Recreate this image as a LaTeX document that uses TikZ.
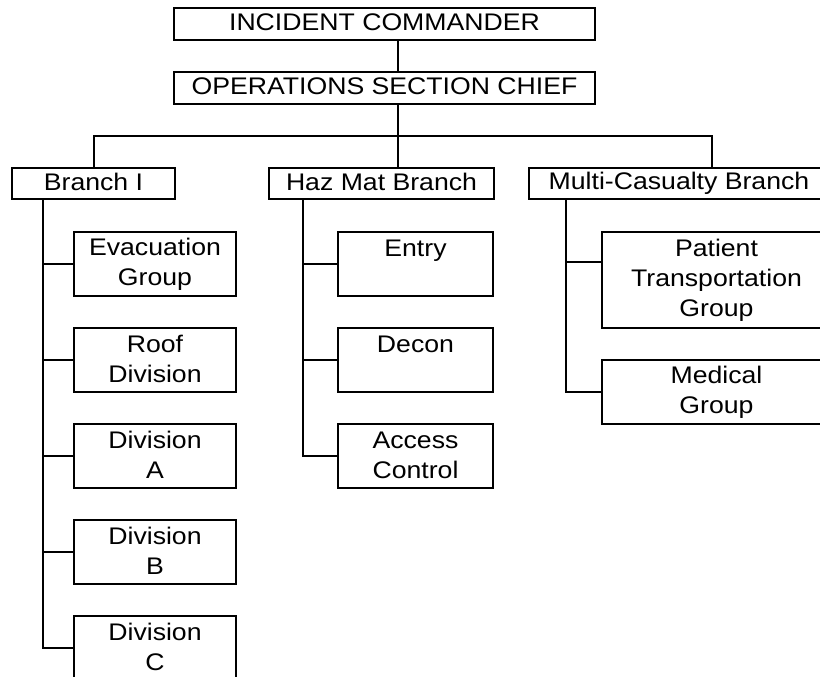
\documentclass[tikz,border=0pt]{standalone}
\usepackage{fontspec}
\setmainfont[FakeStretch=1.11]{Liberation Sans}
\newcommand\lnstrut{\rule[-3pt]{0pt}{20pt}}
\tikzset{
  orgbox/.style={draw, line width=2pt, inner sep=0pt, align=center,
    font=\fontsize{24}{30}\selectfont},
  link/.style={line width=2pt},
}
\begin{document}
\begin{tikzpicture}[x=1pt, y=-1pt]
\useasboundingbox (0,0) rectangle (820,677);
\clip (0,0) rectangle (820,677);

% command levels
\node[orgbox, minimum width=421, minimum height=32] (ic)  at (384.5,24) {\lnstrut INCIDENT COMMANDER};
\node[orgbox, minimum width=421, minimum height=32] (osc) at (384.5,88) {\lnstrut OPERATIONS SECTION CHIEF};

% branches
\node[orgbox, minimum width=163, minimum height=31] (br1) at (93.5,183.5)  {\lnstrut Branch I};
\node[orgbox, minimum width=225, minimum height=31] (haz) at (381.5,183.5) {\lnstrut Haz Mat Branch};
\node[orgbox, minimum width=300, minimum height=31] (mcb) at (679,183.5)   {\lnstrut Multi-Casualty Branch};

% Branch I units
\node[orgbox, minimum width=162, minimum height=64] (evac) at (155,264) {\lnstrut Evacuation\\\lnstrut Group};
\node[orgbox, minimum width=162, minimum height=64] (roof) at (155,360) {\lnstrut Roof\\\lnstrut Division};
\node[orgbox, minimum width=162, minimum height=64] (diva) at (155,456) {\lnstrut Division\\\lnstrut A};
\node[orgbox, minimum width=162, minimum height=64] (divb) at (155,552) {\lnstrut Division\\\lnstrut B};
\node[orgbox, minimum width=162, minimum height=64] (divc) at (155,648) {\lnstrut Division\\\lnstrut C};

% Haz Mat units
\node[orgbox, minimum width=155, minimum height=64] (entry)  at (415.5,264) {\lnstrut Entry\\\lnstrut};
\node[orgbox, minimum width=155, minimum height=64] (decon)  at (415.5,360) {\lnstrut Decon\\\lnstrut};
\node[orgbox, minimum width=155, minimum height=64] (access) at (415.5,456) {\lnstrut Access\\\lnstrut Control};

% Multi-Casualty units
\node[orgbox, minimum width=229, minimum height=96] (ptg) at (716.5,280) {\lnstrut Patient\\\lnstrut Transportation\\\lnstrut Group};
\node[orgbox, minimum width=229, minimum height=64] (med) at (716.5,392) {\lnstrut Medical\\\lnstrut Group};

% spine positions
\coordinate (spine) at (398,0);
\coordinate (bar)   at (0,136);
\coordinate (brR)   at (712,0);
\coordinate (s1)    at (43,0);
\coordinate (s2)    at (303,0);
\coordinate (s3)    at (566,0);

% command chain
\draw[link] (ic.south -| spine) -- (osc.north -| spine);
\draw[link] (osc.south -| spine) -- (haz.north -| spine);
\draw[link] (br1.north -| br1) |- (bar -| spine) -| (mcb.north -| brR);

% Branch I
\draw[link] (br1.south -| s1) |- (divc.west);
\draw[link] (evac.west -| s1) -- (evac.west);
\draw[link] (roof.west -| s1) -- (roof.west);
\draw[link] (diva.west -| s1) -- (diva.west);
\draw[link] (divb.west -| s1) -- (divb.west);

% Haz Mat Branch
\draw[link] (haz.south -| s2) |- (access.west);
\draw[link] (entry.west -| s2) -- (entry.west);
\draw[link] (decon.west -| s2) -- (decon.west);

% Multi-Casualty Branch
\draw[link] (mcb.south -| s3) |- (med.west);
\draw[link] ([yshift=-31pt]ptg.north west -| s3) -- ([yshift=-31pt]ptg.north west);
\end{tikzpicture}
\end{document}
